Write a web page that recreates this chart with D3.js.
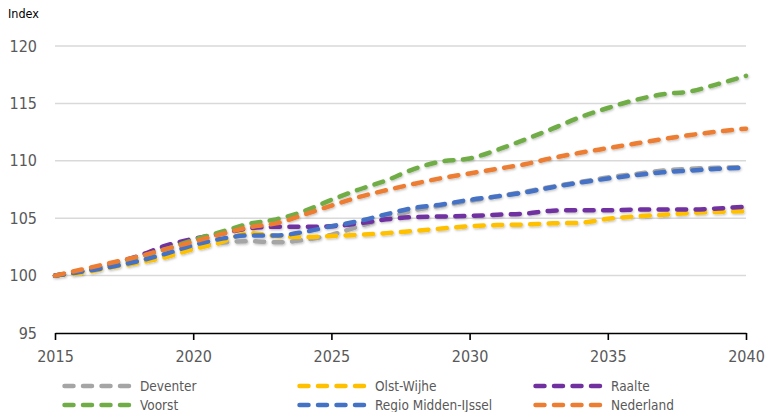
<!DOCTYPE html>
<html>
<head>
<meta charset="utf-8">
<script src="https://cdn.jsdelivr.net/npm/d3@7"></script>
<style>
  html, body { margin: 0; padding: 0; background: #fff; }
  svg { display: block; }
  text { font-family: "DejaVu Sans Condensed", "DejaVu Sans", sans-serif; }
</style>
</head>
<body>
<svg id="chart" width="769" height="412"></svg>
<script>
// Population index (2015 = 100), yearly 2015–2040
const years = d3.range(2015, 2041);

const deventer = [100, 100.35, 100.8, 101.3, 101.8, 102.4, 102.85, 103.0, 102.9, 103.1, 103.55,
  104.3, 105.0, 105.7, 106.1, 106.5, 106.9, 107.3, 107.75, 108.15, 108.55, 108.85, 109.15, 109.3, 109.4, 109.45];
const olstWijhe = [100, 100.25, 100.7, 101.1, 101.6, 102.3, 102.9, 103.7, 103.45, 103.35, 103.45,
  103.55, 103.7, 103.9, 104.1, 104.3, 104.4, 104.45, 104.55, 104.6, 104.95, 105.15, 105.3, 105.45, 105.55, 105.6];
const raalte = [100, 100.4, 101.0, 101.7, 102.6, 103.2, 103.65, 104.1, 104.25, 104.25, 104.3,
  104.55, 104.9, 105.1, 105.15, 105.2, 105.3, 105.4, 105.65, 105.7, 105.7, 105.75, 105.75, 105.75, 105.85, 106.0];
const voorst = [100, 100.45, 101.0, 101.6, 102.3, 103.1, 103.8, 104.5, 104.9, 105.6, 106.6,
  107.5, 108.3, 109.3, 109.95, 110.2, 110.95, 111.85, 112.8, 113.8, 114.6, 115.3, 115.8, 116.05, 116.7, 117.4];
const regio = [100, 100.35, 100.75, 101.25, 101.9, 102.65, 103.2, 103.5, 103.5, 103.8, 104.3,
  104.75, 105.35, 105.9, 106.2, 106.6, 106.9, 107.25, 107.7, 108.1, 108.45, 108.75, 109.0, 109.15, 109.3, 109.4];
const nederland = [100, 100.55, 101.1, 101.65, 102.3, 102.95, 103.6, 104.2, 104.55, 105.3, 106.1,
  106.85, 107.45, 108.0, 108.5, 108.9, 109.3, 109.7, 110.25, 110.7, 111.1, 111.5, 111.9, 112.25, 112.55, 112.8];

const seriesNames = ["Deventer", "Olst-Wijhe", "Raalte", "Voorst", "Regio Midden-IJssel", "Nederland"];
const seriesValues = [deventer, olstWijhe, raalte, voorst, regio, nederland];
const seriesColors = ["#A5A5A5", "#FFC000", "#7030A0", "#70AD47", "#4472C4", "#ED7D31"];

const xTicks = [2015, 2020, 2025, 2030, 2035, 2040];
const yTicks = [95, 100, 105, 110, 115, 120];

const svg = d3.select("#chart");

const x = d3.scaleLinear().domain([2015, 2040]).range([55, 746]);
const y = d3.scaleLinear().domain([95, 120]).range([333, 46]);

// soft shadow under the lines
const defs = svg.append("defs");
const f = defs.append("filter").attr("id", "shadow")
  .attr("x", "-5%").attr("y", "-20%").attr("width", "110%").attr("height", "140%");
f.append("feDropShadow").attr("dx", 0.8).attr("dy", 1.2).attr("stdDeviation", 0.8)
  .attr("flood-color", "#000").attr("flood-opacity", 0.25);

// axis title
svg.append("text").attr("x", 8).attr("y", 18)
  .attr("font-size", 12.5).attr("fill", "#000").text("Index");

// horizontal gridlines
svg.append("g").selectAll("line")
  .data(yTicks.filter(v => v > 95))
  .join("line")
  .attr("x1", x(2015)).attr("x2", x(2040))
  .attr("y1", d => y(d)).attr("y2", d => y(d))
  .attr("stroke", "#d9d9d9").attr("stroke-width", 1.5);

// y axis labels
const yAxis = d3.axisLeft(y).tickValues(yTicks).tickSize(0).tickPadding(18);
const gy = svg.append("g").attr("transform", `translate(${x(2015)},0)`).call(yAxis);
gy.select(".domain").remove();
gy.selectAll("text").attr("font-size", 16).attr("fill", "#595959")
  .attr("font-family", "DejaVu Sans Condensed, DejaVu Sans, sans-serif");

// x axis along the 95 line
const xAxis = d3.axisBottom(x).tickValues(xTicks).tickFormat(d3.format("d"))
  .tickSize(7).tickSizeOuter(0).tickPadding(11);
const gx = svg.append("g").attr("transform", `translate(0,${y(95)})`).call(xAxis);
gx.select(".domain").attr("stroke", "#000").attr("stroke-width", 1.6);
gx.selectAll(".tick line").attr("stroke", "#000").attr("stroke-width", 1.6);
gx.selectAll("text").attr("font-size", 16).attr("fill", "#595959")
  .attr("font-family", "DejaVu Sans Condensed, DejaVu Sans, sans-serif");

// series lines
const line = d3.line()
  .x((d, i) => x(years[i]))
  .y(d => y(d))
  .curve(d3.curveMonotoneX);

svg.append("g").attr("filter", "url(#shadow)")
  .selectAll("path")
  .data(seriesValues)
  .join("path")
  .attr("d", line)
  .attr("fill", "none")
  .attr("stroke", (d, i) => seriesColors[i])
  .attr("stroke-width", 4.5)
  .attr("stroke-linecap", "round")
  .attr("stroke-dasharray", "9 9.5");

// legend: 3 columns x 2 rows
const legendCols = [62, 297, 533];
const legendRows = [386, 405];
const lg = svg.append("g");
seriesNames.forEach((name, i) => {
  const cx = legendCols[i % 3];
  const cy = legendRows[Math.floor(i / 3)];
  lg.append("line")
    .attr("x1", cx + 2.5).attr("x2", cx + 67)
    .attr("y1", cy).attr("y2", cy)
    .attr("stroke", seriesColors[i]).attr("stroke-width", 4.5)
    .attr("stroke-linecap", "round").attr("stroke-dasharray", "9 9.5");
  lg.append("text")
    .attr("x", cx + 78).attr("y", cy + 5)
    .attr("font-size", 13.5).attr("fill", "#595959")
    .text(name);
});
</script>
</body>
</html>
